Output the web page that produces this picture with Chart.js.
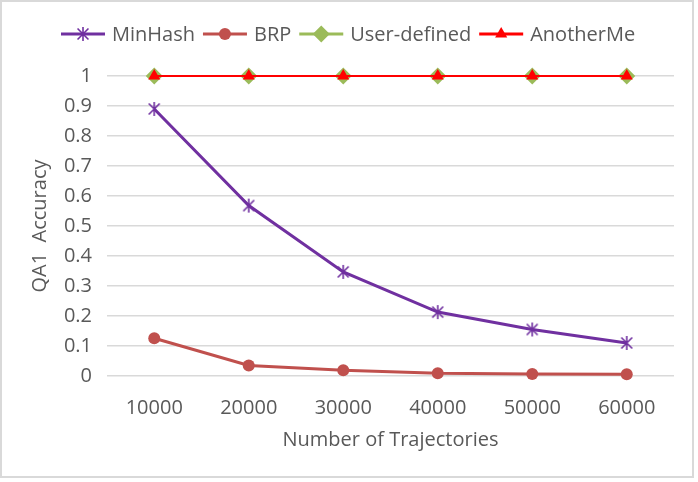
<!DOCTYPE html>
<html>
<head>
<meta charset="utf-8">
<script src="https://cdn.jsdelivr.net/npm/chart.js@4/dist/chart.umd.min.js"></script>
<style>
  html, body { margin: 0; padding: 0; background: #fff; }
  #frame {
    position: absolute; left: 0; top: 0;
    width: 690px; height: 474px;
    border: 2px solid #d9d9d9;
  }
</style>
</head>
<body>
<div id="frame"><canvas id="qaChart" width="690" height="474"></canvas></div>
<script>
"use strict";

// data
const trajectories = ['10000', '20000', '30000', '40000', '50000', '60000'];
const minHash      = [0.89, 0.568, 0.347, 0.213, 0.155, 0.11];
const brp          = [0.126, 0.035, 0.019, 0.009, 0.007, 0.006];
const userDefined  = [1, 1, 1, 1, 1, 1];
const anotherMe    = [1, 1, 1, 1, 1, 1];

const FONT = "'Open Sans', 'Noto Sans', sans-serif";
const FONT_SIZE = 20;
const TEXT = '#595959';
const GRID = '#d9d9d9';

// Excel-like asterisk marker: an X plus a vertical stroke
function makeStar(size, color) {
    const c = document.createElement('canvas');
    c.width = size;
    c.height = size;
    const g = c.getContext('2d');
    const m = size / 2, r = size / 2 - 1, d = r * 0.78;
    g.strokeStyle = color;
    g.lineWidth = 1.6;
    g.beginPath();
    g.moveTo(m, m - r); g.lineTo(m, m + r);
    g.moveTo(m - d, m - d); g.lineTo(m + d, m + d);
    g.moveTo(m + d, m - d); g.lineTo(m - d, m + d);
    g.stroke();
    return c;
}

const starIcon = makeStar(16, '#7030A0');

// clip: false so the markers sitting on the top edge (value 1) are not cut in half
const datasets = [
    {
        label: 'MinHash', data: minHash,
        borderColor: '#7030A0', backgroundColor: '#7030A0', borderWidth: 3,
        pointStyle: starIcon, pointRadius: 7, order: 2, clip: false
    },
    {
        label: 'BRP', data: brp,
        borderColor: '#C0504D', backgroundColor: '#C0504D', borderWidth: 3,
        pointStyle: 'circle', pointRadius: 6, pointBorderWidth: 0, order: 3, clip: false
    },
    {
        label: 'User-defined', data: userDefined,
        borderColor: '#9BBB59', backgroundColor: '#9BBB59', borderWidth: 2,
        pointStyle: 'rectRot', pointRadius: 8.5, pointBorderWidth: 0, order: 1, clip: false
    },
    {
        label: 'AnotherMe', data: anotherMe,
        borderColor: '#FF0000', backgroundColor: '#FF0000', borderWidth: 2,
        pointStyle: 'triangle', pointRadius: 7, pointBorderWidth: 0, order: 0, clip: false
    }
];

// legend with a short line through each marker, as in the Excel original
const lineLegend = {
    id: 'lineLegend',
    afterDraw(chart) {
        const ctx = chart.ctx;
        const y = 32;
        let x = 59;
        ctx.save();
        ctx.font = FONT_SIZE + 'px ' + FONT;
        ctx.textBaseline = 'middle';
        ctx.textAlign = 'left';
        chart.data.datasets.forEach(ds => {
            ctx.strokeStyle = ds.borderColor;
            ctx.fillStyle = ds.backgroundColor;
            ctx.lineWidth = 3;
            ctx.beginPath();
            ctx.moveTo(x, y);
            ctx.lineTo(x + 44, y);
            ctx.stroke();
            Chart.helpers.drawPoint(ctx, {
                pointStyle: ds.pointStyle,
                radius: ds.pointRadius,
                rotation: 0,
                borderWidth: 0
            }, x + 22, y);
            ctx.fillStyle = TEXT;
            ctx.fillText(ds.label, x + 51, y + 1);
            x += 51 + ctx.measureText(ds.label).width + 8;
        });
        ctx.restore();
    }
};

new Chart(document.getElementById('qaChart'), {
    type: 'line',
    data: { labels: trajectories, datasets },
    plugins: [lineLegend],
    options: {
        responsive: false,
        animation: false,
        layout: { padding: { top: 74, right: 18, bottom: 0, left: 0 } },
        elements: { line: { tension: 0 } },
        plugins: {
            legend: { display: false },
            tooltip: { enabled: false }
        },
        scales: {
            x: {
                offset: true,
                grid: { display: false, drawTicks: false },
                border: { display: false },
                ticks: { color: TEXT, font: { family: FONT, size: FONT_SIZE }, padding: 20, maxRotation: 0 },
                title: {
                    display: true, text: 'Number of Trajectories', color: TEXT,
                    font: { family: FONT, size: FONT_SIZE }, padding: { top: 0, bottom: 24 }
                },
                afterFit(scale) { scale.height = 100; }
            },
            y: {
                min: 0, max: 1,
                grid: { color: GRID, lineWidth: 1.5, drawTicks: false },
                border: { display: false },
                ticks: {
                    stepSize: 0.1, color: TEXT, padding: 15,
                    font: { family: FONT, size: FONT_SIZE },
                    callback: v => String(Number(v.toFixed(1)))
                },
                title: {
                    display: true, text: 'QA1  Accuracy', color: TEXT,
                    font: { family: FONT, size: FONT_SIZE }, padding: { top: 26, bottom: 0 }
                },
                afterFit(scale) { scale.width = 105; }
            }
        }
    }
});
</script>
</body>
</html>
